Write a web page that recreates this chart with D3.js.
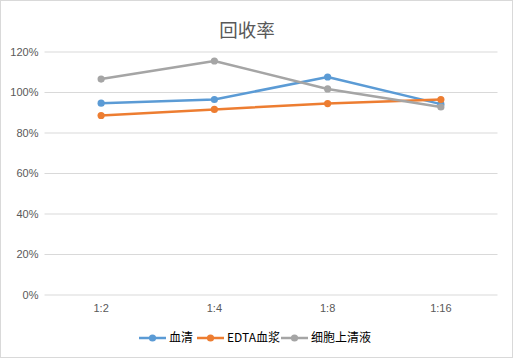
<!DOCTYPE html>
<html>
<head>
<meta charset="utf-8">
<script src="https://cdn.jsdelivr.net/npm/d3@7"></script>
<style>
  body { margin: 0; background: #fff; }
  text { font-family: "Liberation Sans", "Noto Sans CJK SC", sans-serif; }
</style>
</head>
<body>
<div class="container"></div>
<script>
const categories = ["1:2", "1:4", "1:8", "1:16"];
const seriesNames = ["血清", "EDTA血浆", "细胞上清液"];
const serum = [0.945, 0.963, 1.074, 0.94];
const edta = [0.884, 0.914, 0.943, 0.963];
const supernatant = [1.064, 1.153, 1.015, 0.926];
const yTicks = [0, 0.2, 0.4, 0.6, 0.8, 1.0, 1.2];
const colors = ["#5B9BD5", "#ED7D31", "#A5A5A5"];

const width = 513;
const height = 358;
const margin = { top: 51.5, right: 15.5, bottom: 63.5, left: 44.5 };

let svg = d3
  .select(".container")
  .append("svg")
  .attr("width", width)
  .attr("height", height);

// chart border
svg
  .append("rect")
  .attr("x", 0.5)
  .attr("y", 0.5)
  .attr("width", width - 1)
  .attr("height", height - 1)
  .attr("fill", "#fff")
  .attr("stroke", "#d9d9d9");

let x = d3
  .scaleBand()
  .domain(categories)
  .range([margin.left, width - margin.right]);
let y = d3
  .scaleLinear()
  .domain([0, 1.2])
  .range([height - margin.bottom, margin.top]);

// title
svg
  .append("text")
  .attr("x", 247)
  .attr("y", 37)
  .attr("text-anchor", "middle")
  .attr("font-size", 18.5)
  .attr("fill", "#595959")
  .style("font-family", "'Noto Sans CJK SC', sans-serif")
  .text("回收率");

// gridlines + y labels
let yAxis = svg
  .append("g")
  .attr("transform", `translate(${margin.left},0)`)
  .call(
    d3
      .axisLeft(y)
      .tickValues(yTicks)
      .tickSize(-(width - margin.left - margin.right))
      .tickPadding(8)
      .tickFormat(d3.format(".0%"))
  );
yAxis.select(".domain").remove();
yAxis.selectAll("line").attr("stroke", "#d9d9d9");
yAxis
  .selectAll("text")
  .attr("font-size", 11)
  .attr("fill", "#595959")
  .attr("x", -6);

// x labels
let xAxis = svg
  .append("g")
  .attr("transform", `translate(0,${height - margin.bottom})`)
  .call(d3.axisBottom(x).tickSize(0).tickPadding(10));
xAxis.select(".domain").remove();
xAxis.selectAll("text").attr("font-size", 11).attr("fill", "#595959");

let allSeries = [serum, edta, supernatant];
let line = d3
  .line()
  .x((d, i) => x(categories[i]) + x.bandwidth() / 2)
  .y(d => y(d));

allSeries.forEach((vals, s) => {
  let g = svg.append("g");
  g.append("path")
    .attr("d", line(vals))
    .attr("fill", "none")
    .attr("stroke", colors[s])
    .attr("stroke-width", 2.5)
    .attr("stroke-linejoin", "round");
  g.selectAll("circle")
    .data(vals)
    .join("circle")
    .attr("cx", (d, i) => x(categories[i]) + x.bandwidth() / 2)
    .attr("cy", d => y(d))
    .attr("r", 3.6)
    .attr("fill", colors[s]);
});

// legend
const legendY = 338;
const legendX = [139, 197, 281];
seriesNames.forEach((name, s) => {
  let g = svg.append("g").attr("transform", `translate(${legendX[s]},${legendY})`);
  g.append("line")
    .attr("x1", 0)
    .attr("x2", 27)
    .attr("stroke", colors[s])
    .attr("stroke-width", 2.5);
  g.append("circle").attr("cx", 13.5).attr("r", 3.6).attr("fill", colors[s]);
  g.append("text")
    .attr("x", 30)
    .attr("dy", "0.35em")
    .attr("font-size", 12)
    .attr("fill", "#000")
    .style("font-family", "'Noto Sans CJK SC', sans-serif")
    .text(name);
});
</script>
</body>
</html>
